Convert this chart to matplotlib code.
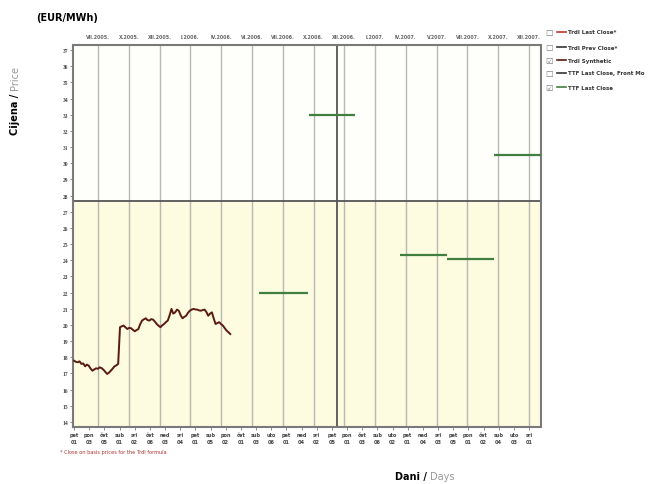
import matplotlib
matplotlib.use("Agg")
import matplotlib.pyplot as plt
import numpy as np

# --- data ---
y_ticks = list(range(14, 38))
month_labels = ["VII.2005.", "X.2005.", "XII.2005.", "I.2006.", "IV.2006.", "VI.2006.",
                "VII.2006.", "X.2006.", "XII.2006.", "I.2007.", "IV.2007.", "V.2007.",
                "VII.2007.", "X.2007.", "XII.2007."]
day_names = ["pet", "pon", "čet", "sub", "sri", "čet", "ned", "sri", "pet", "sub",
             "pon", "čet", "sub", "uto", "pet", "ned", "sri", "pet", "pon", "čet",
             "sub", "uto", "pet", "ned", "sri", "pet", "pon", "čet", "sub", "uto", "sri"]
day_nums = ["01", "03", "05", "01", "02", "06", "03", "04", "01", "05",
            "02", "01", "03", "06", "01", "04", "02", "05", "01", "03",
            "06", "02", "01", "04", "03", "05", "01", "02", "04", "03", "01"]

synthetic = [17.79, 17.72, 17.69, 17.75, 17.59, 17.62, 17.44, 17.55, 17.48, 17.30,
             17.17, 17.25, 17.32, 17.29, 17.38, 17.33, 17.23, 17.10, 16.97, 17.05,
             17.17, 17.30, 17.44, 17.50, 17.59, 19.86, 19.92, 19.96, 19.85, 19.75,
             19.82, 19.80, 19.70, 19.61, 19.68, 19.75, 20.05, 20.27, 20.35, 20.41,
             20.30, 20.27, 20.36, 20.33, 20.20, 20.06, 19.95, 19.86, 19.98, 20.06,
             20.18, 20.27, 20.60, 20.99, 20.70, 20.78, 20.95, 20.88, 20.60, 20.41,
             20.50, 20.57, 20.75, 20.88, 20.95, 20.99, 20.96, 20.95, 20.90, 20.88,
             20.92, 20.95, 20.80, 20.57, 20.70, 20.78, 20.40, 20.06, 20.12, 20.17,
             20.05, 19.96, 19.80, 19.65, 19.55, 19.44]
synthetic_x = np.linspace(0, 10.3, len(synthetic))

ttf_start = [12.2, 15.5, 21.5, 24.6, 27.7]
ttf_end = [15.4, 18.5, 24.6, 27.7, 30.8]
ttf_value = [22.0, 33.0, 24.3, 24.1, 30.5]

month_pos = [1.58 + 2.03 * i for i in range(len(month_labels))]
cross_x = 17.37
cross_y = 27.65

legend_labels = ["TrdI Last Close*", "TrdI Prev Close*", "TrdI Synthetic",
                 "TTF Last Close, Front Mo", "TTF Last Close"]
legend_colors = ["#c0392b", "#333333", "#5a1a10", "#333333", "#3f7f3f"]
legend_checked = [False, False, True, False, True]

fig = plt.figure(figsize=(6.64, 4.85), dpi=100)
ax = fig.add_axes([73 / 664, 1 - 428 / 485, 468 / 664, 382 / 485])

ax.set_xlim(-0.07, 30.79)
ax.set_ylim(13.69, 37.31)
ax.set_facecolor("#fdfcf0")
ax.axhspan(13.69, cross_y, color="#fdfbe0", zorder=0)
ax.axhspan(cross_y, 37.31, color="#fefefb", zorder=0)

for xp in month_pos:
    ax.axvline(xp, color="#b8b8b0", lw=1.0, zorder=1)
ax.axvline(cross_x, color="#555555", lw=1.3, zorder=2)
ax.axhline(cross_y, color="#555555", lw=1.3, zorder=2)

ax.plot(synthetic_x, synthetic, color="#5a1a10", lw=1.4, zorder=3)
ax.hlines(ttf_value, ttf_start, ttf_end, color="#3f7f3f", lw=1.6, zorder=3)

ax.set_yticks(y_ticks)
ax.set_yticklabels([str(v) for v in y_ticks], fontsize=4, color="#444444",
                   family="Liberation Serif", fontweight="bold")
ax.set_xticks(range(len(day_names)))
ax.set_xticklabels([f"{d}\n{n}" for d, n in zip(day_names, day_nums)], fontsize=3.6,
                   color="#444444", fontweight="bold", linespacing=1.6)
ax.tick_params(axis="both", length=2, width=0.6, color="#777777", pad=1.5)

for s in ax.spines.values():
    s.set_color("#7a7a7a")
    s.set_linewidth(1.5)

# month labels on top
for xp, lab in zip(month_pos, month_labels):
    ax.text(xp, 1.015, lab, transform=ax.get_xaxis_transform(), ha="center",
            va="bottom", fontsize=3.4, color="#666666", fontweight="bold")

# legend with checkboxes
leg_y = [33, 48, 61, 74, 88]
for yp, lab, col, chk in zip(leg_y, legend_labels, legend_colors, legend_checked):
    fy = 1 - yp / 485
    fig.text(549 / 664, fy, "☑" if chk else "☐", fontsize=6, color="#777777",
             ha="center", va="center", family="DejaVu Sans")
    fig.add_artist(plt.Line2D([557 / 664, 566 / 664], [fy, fy], color=col, lw=1.2))
    fig.text(568 / 664, fy, lab, fontsize=4, color="#333333", ha="left",
             va="center", fontweight="bold")

fig.text(36 / 664, 1 - 18 / 485, "(EUR/MWh)", fontsize=7, fontweight="bold",
         ha="left", va="center")
fig.text(15 / 664, 1 - 90 / 485, "Cijena / ", fontsize=7, fontweight="bold",
         rotation=90, ha="center", va="top")
fig.text(15 / 664, 1 - 90 / 485, "Price", fontsize=7, color="#999999",
         rotation=90, ha="center", va="bottom")
fig.text(430 / 664, 1 - 477 / 485, "Dani / ", fontsize=7, fontweight="bold",
         ha="right", va="center")
fig.text(430 / 664, 1 - 477 / 485, "Days", fontsize=7, color="#999999",
         ha="left", va="center")
fig.text(60 / 664, 1 - 453 / 485, "* Close on basis prices for the TrdI formula",
         fontsize=3.6, color="#b03030", ha="left", va="center")

fig.savefig("out.png", dpi=100)
